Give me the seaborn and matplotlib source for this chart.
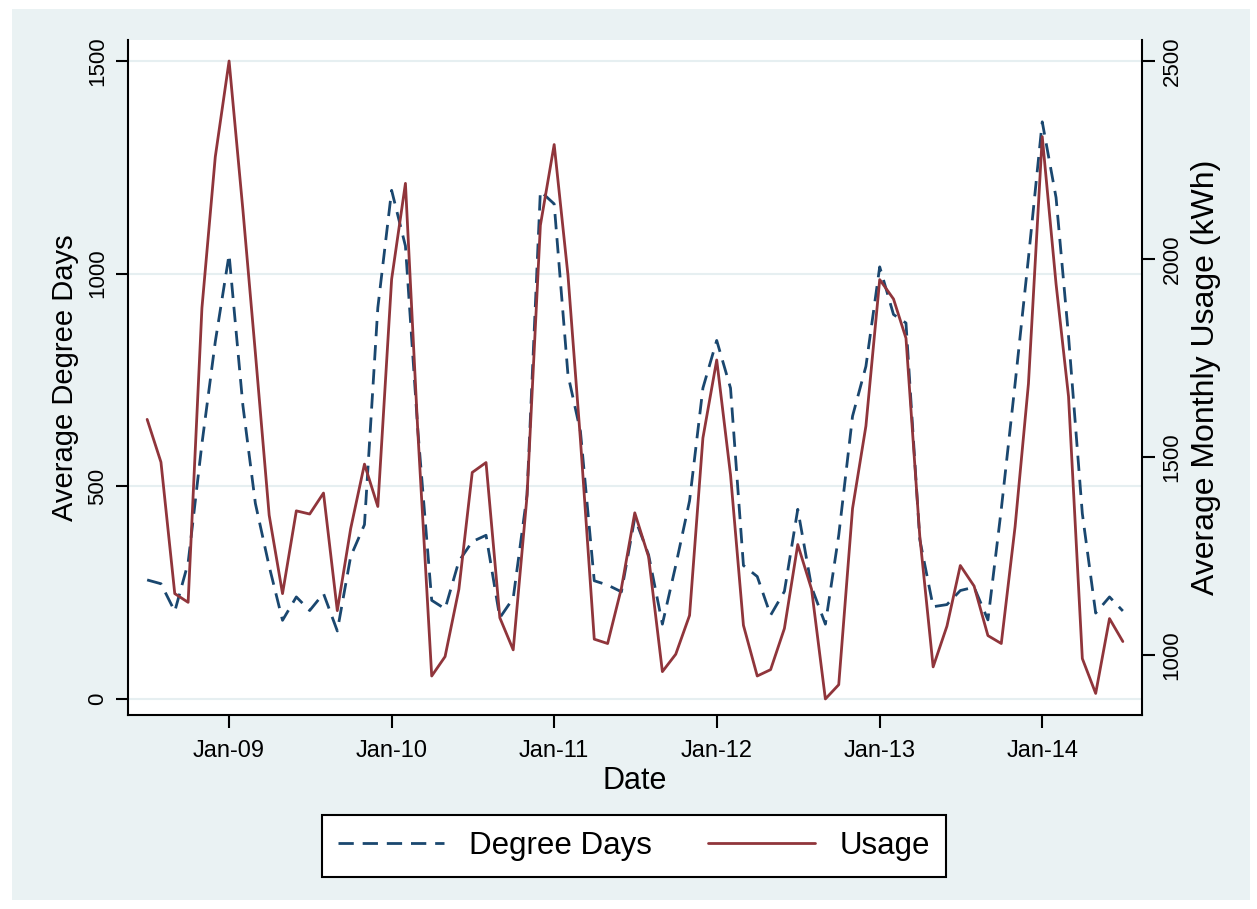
import pandas as pd
import seaborn as sns
import matplotlib.pyplot as plt
import matplotlib.dates as mdates
from matplotlib.patches import Rectangle

# monthly series, Jul 2008 - Jul 2014
months = pd.date_range("2008-07-01", periods=73, freq="MS")

degree_days = [280, 271, 206, 320, 600, 840, 1045, 690, 460, 312, 185, 240,
               208, 248, 160, 335, 410, 920, 1196, 1065, 630, 232, 212, 324,
               370, 385, 191, 237, 480, 1194, 1164, 762, 629, 278, 268, 252,
               426, 339, 176, 314, 466, 731, 843, 731, 314, 288, 197, 253,
               446, 263, 176, 385, 665, 782, 1016, 904, 884, 375, 217, 222,
               255, 263, 186, 446, 741, 1037, 1357, 1179, 853, 436, 202, 240,
               207]

usage = [1595, 1487, 1155, 1133, 1876, 2258, 2500, 2124, 1763, 1353, 1155, 1364,
         1356, 1409, 1112, 1319, 1482, 1375, 1949, 2191, 1560, 947, 996, 1166,
         1461, 1486, 1094, 1013, 1401, 2085, 2289, 1959, 1543, 1040, 1029, 1169,
         1359, 1248, 958, 1002, 1100, 1548, 1745, 1455, 1075, 947, 963, 1067,
         1279, 1166, 889, 925, 1370, 1578, 1948, 1899, 1800, 1300, 970, 1073,
         1226, 1174, 1049, 1029, 1324, 1685, 2309, 1937, 1653, 991, 903, 1092,
         1034]

left_ticks = [0, 500, 1000, 1500]
right_ticks = [1000, 1500, 2000, 2500]

df = pd.DataFrame({"Date": months, "Degree Days": degree_days, "Usage": usage})

sns.set_style("white")
plt.rcParams["font.family"] = ["Liberation Sans", "DejaVu Sans"]
plt.rcParams["text.color"] = "black"
plt.rcParams["axes.labelcolor"] = "black"
plt.rcParams["xtick.color"] = "black"
plt.rcParams["ytick.color"] = "black"

W, H = 1257, 909
fig = plt.figure(figsize=(W / 100, H / 100), dpi=100)
fig.patch.set_facecolor("white")
# stata-style light background band
fig.patches.append(Rectangle((12 / W, 9 / H), (1250 - 12) / W, (900 - 9) / H,
                             transform=fig.transFigure, facecolor="#EAF2F3",
                             edgecolor="none", zorder=-10))

ax = fig.add_axes([128 / W, (H - 715) / H, (1142 - 128) / W, (715 - 40) / H])
ax.set_facecolor("white")

navy = "#1A476F"
maroon = "#90353B"

sns.lineplot(data=df, x="Date", y="Degree Days", ax=ax, color=navy, lw=2,
             linestyle=(0, (5.5, 3.2)), label="Degree Days", legend=False)
ax2 = ax.twinx()
sns.lineplot(data=df, x="Date", y="Usage", ax=ax2, color=maroon, lw=2,
             label="Usage", legend=False)

ax.set_xlim(pd.Timestamp("2008-05-19"), pd.Timestamp("2014-08-13"))
ax.set_ylim(-37.6, 1549.4)
ax2.set_ylim(848.5, 2553)
ax.set_yticks(left_ticks)
ax2.set_yticks(right_ticks)
ax.xaxis.set_major_locator(mdates.YearLocator())
ax.xaxis.set_major_formatter(mdates.DateFormatter("%b-%y"))

ax.yaxis.grid(True, color="#E6EFF1", lw=1.5)
ax.set_axisbelow(True)

for a in (ax, ax2):
    a.spines["top"].set_visible(False)
    for s in ("left", "right", "bottom"):
        a.spines[s].set_linewidth(1.5)
        a.spines[s].set_color("black")
    a.tick_params(direction="out", length=9, width=1.5, color="black", pad=5)
ax.spines["right"].set_visible(False)
ax2.spines["left"].set_visible(False)
ax2.spines["bottom"].set_visible(False)

ax.tick_params(axis="x", bottom=True, labelsize=17, pad=9)
ax.tick_params(axis="y", left=True, labelrotation=90, labelsize=16)
ax2.tick_params(axis="y", right=True, labelrotation=90, labelsize=16)
for t in ax.get_yticklabels() + ax2.get_yticklabels():
    t.set_va("center")

ax.set_xlabel("Date", fontsize=22, labelpad=3)
ax.set_ylabel("Average Degree Days", fontsize=21, labelpad=6)
ax2.set_ylabel("Average Monthly Usage (kWh)", fontsize=23, rotation=90, labelpad=6)

h1, l1 = ax.get_legend_handles_labels()
h2, l2 = ax2.get_legend_handles_labels()
leg = fig.legend(h1 + h2, l1 + l2, loc="center", bbox_to_anchor=(634 / W, 1 - 846 / H),
                 ncol=2, frameon=True, fancybox=False, fontsize=22.5, handlelength=3.4,
                 columnspacing=1.8, borderpad=0.5, handletextpad=0.8,
                 framealpha=1, facecolor="white")
leg.get_frame().set_edgecolor("black")
leg.get_frame().set_linewidth(1.5)

fig.savefig("out.png", dpi=100)
